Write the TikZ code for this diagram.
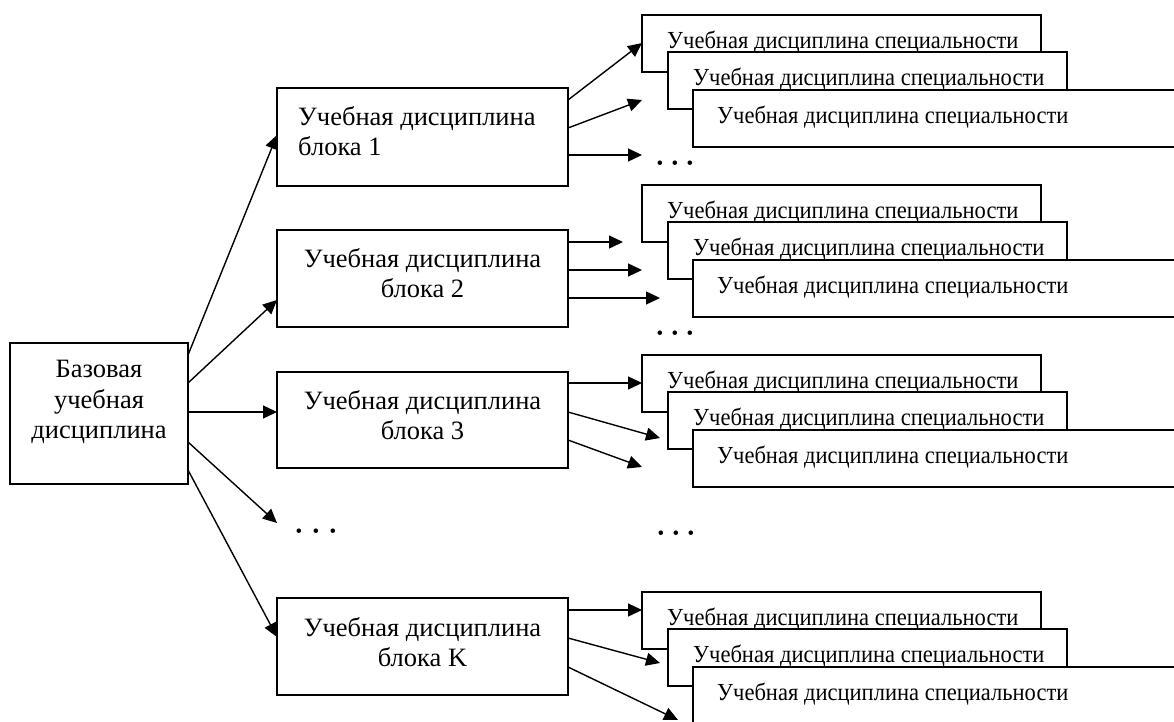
\documentclass[tikz,border=0pt]{standalone}
\usepackage{fontspec}
\setmainfont{Liberation Serif}
\usetikzlibrary{arrows.meta,calc}
\newcommand\stacktext{\scalebox{0.92}[1]{Учебная дисциплина специальности}}
\newcommand\mystack[2]{%
  \node[box, minimum width=399pt, minimum height=57pt] (#1a) at (642,#2) {};
  \node[stxt] at ([xshift=25pt,yshift=1pt]#1a.west) {\stacktext};
  \node[box, minimum width=399pt, minimum height=57pt] (#1b) at (668,#2+37) {};
  \node[stxt] at ([xshift=25pt,yshift=1pt]#1b.west) {\stacktext};
  \node[box, minimum width=520pt, minimum height=57pt] (#1c) at (693,#2+75) {};
  \node[stxt] at ([xshift=24pt,yshift=1pt]#1c.west) {\stacktext};
}
\begin{document}
\begin{tikzpicture}[x=1pt,y=-1pt,
  box/.style={draw, line width=1.4pt, fill=white, anchor=north west, inner sep=0pt, outer sep=0pt},
  txt/.style={font=\fontsize{26.5}{30.5}\selectfont, inner sep=0pt, align=center},
  stxt/.style={font=\fontsize{24.5}{28}\selectfont, inner sep=0pt, anchor=west},
  arr/.style={line width=1.4pt, -{Triangle[length=14pt,width=13pt]}},
  dotstyle/.style={font=\fontsize{19}{20}\selectfont, inner sep=0pt}]
\useasboundingbox (0,0) rectangle (1174,722);
\clip (0,0) rectangle (1174,722);

% base
\node[box, minimum width=178pt, minimum height=141pt] (base) at (10,343) {};
\node[txt] at (99,402) {Базовая\\учебная\\дисциплина};

% blocks
\node[box, minimum width=291pt, minimum height=98pt] (b1) at (277,88) {};
\node[txt, anchor=west, align=left] at (298,131) {Учебная дисциплина\\блока 1};
\node[box, minimum width=291pt, minimum height=97pt] (b2) at (277,230) {};
\node[txt] at (422.5,273) {Учебная дисциплина\\блока 2};
\node[box, minimum width=291pt, minimum height=96pt] (b3) at (277,372) {};
\node[txt] at (422.5,415) {Учебная дисциплина\\блока 3};
\node[box, minimum width=291pt, minimum height=97pt] (bK) at (277,598) {};
\node[txt] at (422.5,642) {Учебная дисциплина\\блока K};

% stacks
\mystack{s1}{15}
\mystack{s2}{185}
\mystack{s3}{355}
\mystack{sK}{592}

% dots
\node[dotstyle] (d0) at (316,533) {•\hspace{10.4pt}•\hspace{10.4pt}•};
\node[dotstyle] (d1) at (675,165) {•\hspace{8.4pt}•\hspace{8.4pt}•};
\node[dotstyle] (d2) at (675,335) {•\hspace{8.4pt}•\hspace{8.4pt}•};
\node[dotstyle] (d3) at (676,535) {•\hspace{8.4pt}•\hspace{8.4pt}•};

% free arrow ends
\coordinate (e0) at (277,523);
\coordinate (e12) at (642,100);
\coordinate (e13) at (642,155);
\coordinate (e21) at (623,242);
\coordinate (e22) at (642,270);
\coordinate (e23) at (660,298);
\coordinate (e32) at (660,438);
\coordinate (e33) at (642,467);
\coordinate (eK2) at (660,663);
\coordinate (eK3) at (678,720);

% arrows from base
\draw[arr] ($(base.north east)+(0,12)$) -- ($(b1.north west)+(0,47)$);
\draw[arr] ($(base.north east)+(0,40)$) -- ($(b2.north west)+(0,70)$);
\draw[arr] ($(base.north east)+(0,69)$) -- ($(b3.north west)+(0,40)$);
\draw[arr] ($(base.north east)+(0,99)$) -- (e0);
\draw[arr] ($(base.north east)+(0,127)$) -- ($(bK.north west)+(0,39)$);

% arrows from blocks
\draw[arr] ($(b1.north east)+(0,12)$) -- ($(s1a.north west)+(0,28)$);
\draw[arr] ($(b1.north east)+(0,40)$) -- (e12);
\draw[arr] ($(b1.north east)+(0,67)$) -- (e13);

\draw[arr] ($(b2.north east)+(0,12)$) -- (e21);
\draw[arr] ($(b2.north east)+(0,40)$) -- (e22);
\draw[arr] ($(b2.north east)+(0,68)$) -- (e23);

\draw[arr] ($(b3.north east)+(0,11)$) -- ($(s3a.north west)+(0,28)$);
\draw[arr] ($(b3.north east)+(0,40)$) -- (e32);
\draw[arr] ($(b3.north east)+(0,68)$) -- (e33);

\draw[arr] ($(bK.north east)+(0,12)$) -- ($(sKa.north west)+(0,18)$);
\draw[arr] ($(bK.north east)+(0,40)$) -- (eK2);
\draw[arr] ($(bK.north east)+(0,69)$) -- (eK3);
\end{tikzpicture}
\end{document}
